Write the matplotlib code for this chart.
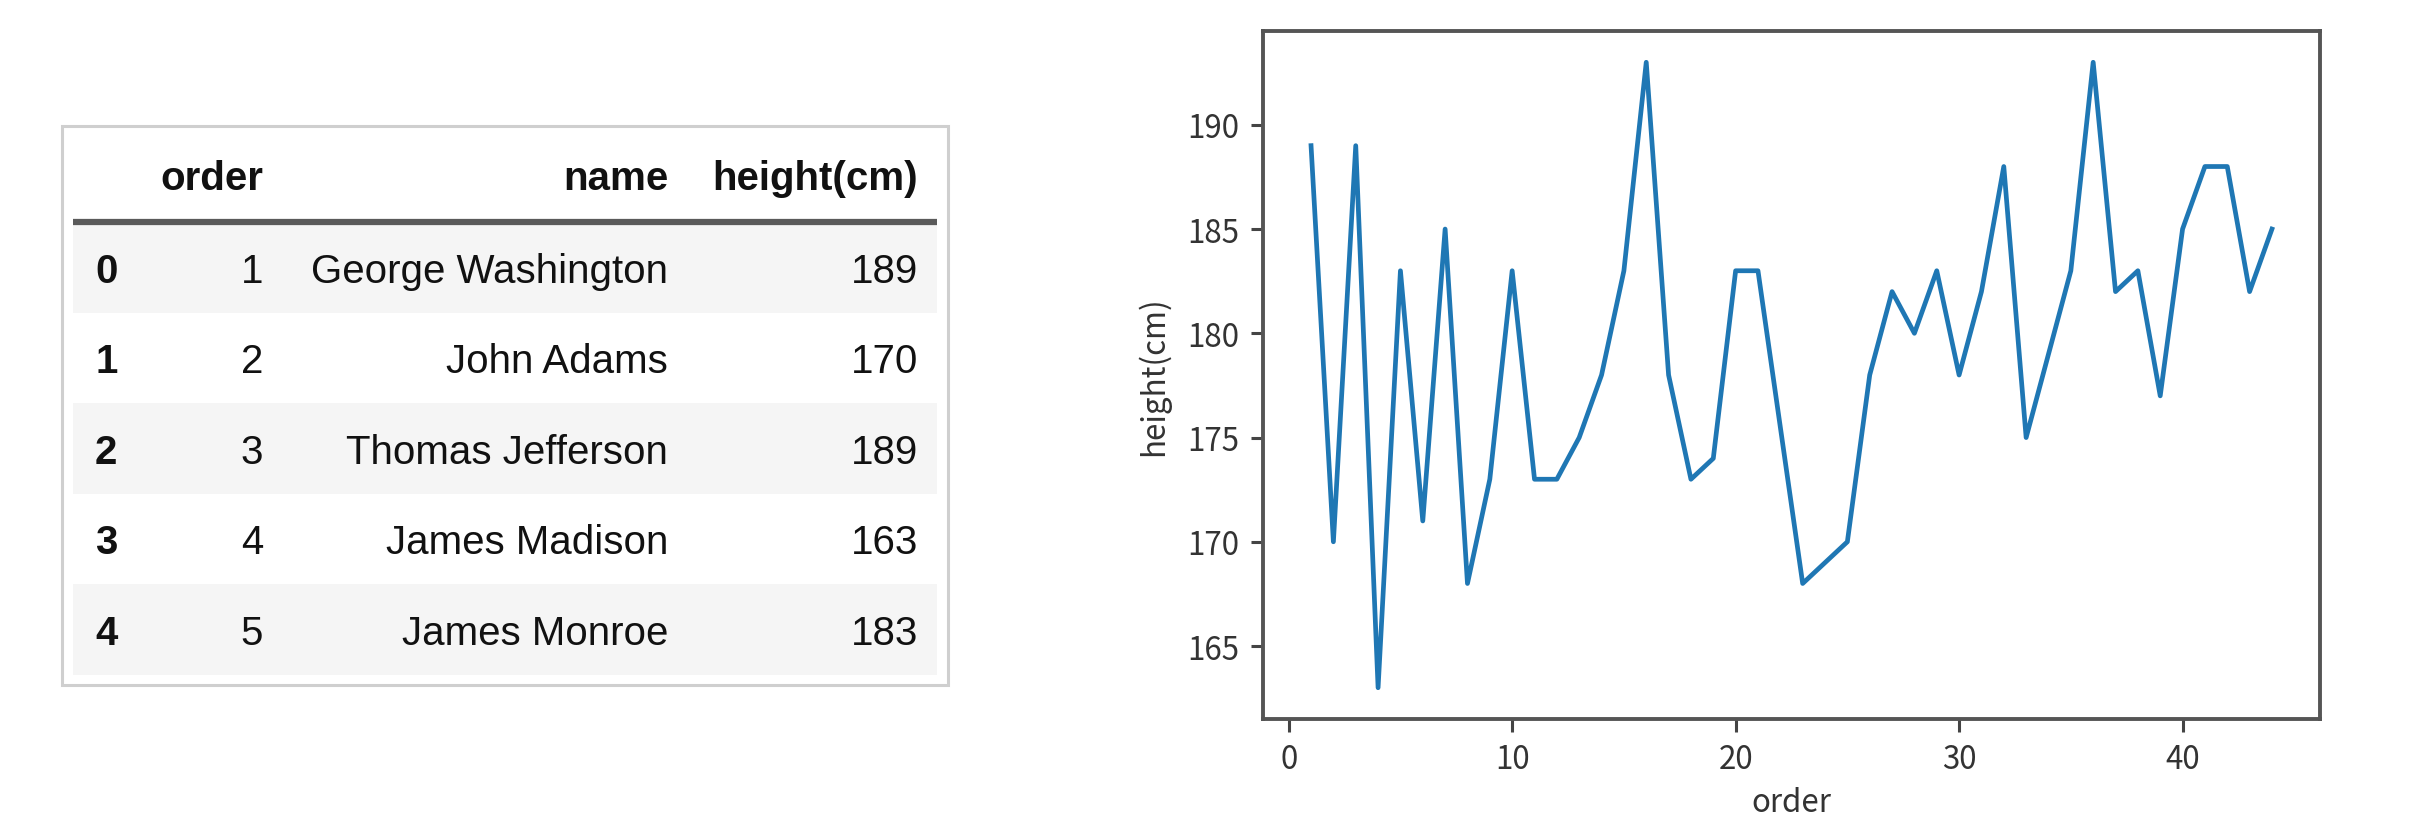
import matplotlib
matplotlib.use("Agg")
import matplotlib.pyplot as plt
from matplotlib.patches import Rectangle

# données (president heights)
order = [1, 2, 3, 4, 5, 6, 7, 8, 9, 10, 11, 12, 13, 14, 15, 16, 17, 18, 19, 20, 21,
         23, 25, 26, 27, 28, 29, 30, 31, 32, 33, 34, 35, 36, 37, 38, 39, 40, 41, 42, 43, 44]
height = [189, 170, 189, 163, 183, 171, 185, 168, 173, 183, 173, 173, 175, 178, 183, 193,
          178, 173, 174, 183, 183, 168, 170, 178, 182, 180, 183, 178, 182, 188, 175, 179,
          183, 193, 182, 183, 177, 185, 188, 188, 182, 185]

# head() du tableau
table_columns = ["order", "name", "height(cm)"]
table_index = [0, 1, 2, 3, 4]
table_order = [1, 2, 3, 4, 5]
table_name = ["George Washington", "John Adams", "Thomas Jefferson", "James Madison", "James Monroe"]
table_height = [189, 170, 189, 163, 183]

W, H = 2424, 828
fig = plt.figure(figsize=(W / 100, H / 100), dpi=100)

# tableau dessiné en coordonnées pixel
tab = fig.add_axes([0, 0, 1, 1])
tab.set_xlim(0, W)
tab.set_ylim(H, 0)
tab.axis("off")

tfont = "Liberation Sans"
tsize = 29
tab.add_patch(Rectangle((62, 127), 886, 559, fill=False, ec="#cfcfcf", lw=2.2))
col_right = [263, 668, 918]
head_base = 190
for x, c in zip(col_right, table_columns):
    tab.text(x, head_base, c, ha="right", va="baseline", fontsize=tsize, family=tfont,
             weight="bold", color="#111111")
rule_y = 223
row_h = 90.5
for i in range(len(table_index)):
    y0 = rule_y + i * row_h
    if i % 2 == 0:
        tab.add_patch(Rectangle((73, y0), 864, row_h, fc="#f5f5f5", ec="none"))
    yb = y0 + 60
    tab.text(95, yb, str(table_index[i]), ha="left", va="baseline", fontsize=tsize,
             family=tfont, weight="bold", color="#111111")
    vals = [str(table_order[i]), table_name[i], str(table_height[i])]
    for x, v in zip(col_right, vals):
        tab.text(x, yb, v, ha="right", va="baseline", fontsize=tsize, family=tfont,
                 color="#111111")
tab.plot([73, 937], [rule_y, rule_y], color="#5a5a5a", lw=4.5, solid_capstyle="butt")

# graphique
left, right, top, bottom = 1263, 2320, 32, 720
ax = fig.add_axes([left / W, (H - bottom) / H, (right - left) / W, (bottom - top) / H])
ax.plot(order, height, color="#1f77b4", lw=3.4)
ax.set_xticks([0, 10, 20, 30, 40])
ax.set_yticks([165, 170, 175, 180, 185, 190])

gfont = ["Noto Sans CJK KR", "DejaVu Sans"]
for s in ax.spines.values():
    s.set_color("#555555")
    s.set_linewidth(2.8)
ax.tick_params(length=9, width=2.2, color="#444444", labelsize=22.5,
               labelcolor="#333333", pad=8)
for lab in ax.get_xticklabels() + ax.get_yticklabels():
    lab.set_family(gfont)

ax.set_xlabel("order", fontsize=22.5, family=gfont, color="#333333", va="center")
ax.set_ylabel("height(cm)", fontsize=22.5, family=gfont, color="#333333", va="center")
ax.xaxis.set_label_coords(0.5, -0.121)
ax.yaxis.set_label_coords(-0.104, 0.5)

fig.savefig("out.png", dpi=100)
